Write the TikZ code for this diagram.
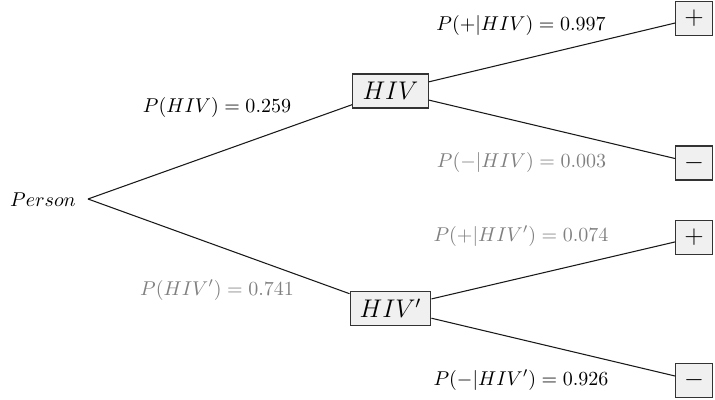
\documentclass[tikz,border=0pt]{standalone}
\usepackage{amsmath}
\begin{document}
\begin{tikzpicture}[x=0.47pt,y=-0.47pt,
  box/.style={draw=black!80,fill=black!6,line width=0.5pt,inner sep=0pt},
  midbox/.style={box,minimum width=35.5pt,minimum height=16pt,font=\large},
  endbox/.style={box,minimum width=17pt,minimum height=16pt,font=\large},
  lbl/.style={inner sep=0pt,scale=0.94},
  faint/.style={lbl,text=black!50},
  edge/.style={line width=0.5pt,draw=black!90}]
\useasboundingbox (0,0) rectangle (715,400);
\node[lbl] (person) at (43,200) {$Person$};
\coordinate (pe) at (88,199);
\node[midbox] (hiv) at (390.5,91) {$HIV$};
\node[midbox,minimum width=38pt] (hivn) at (390.5,308.5) {$HIV'$};
\node[endbox] (p1) at (694,18.5) {$+$};
\node[endbox] (m1) at (694,163) {$-$};
\node[endbox] (p2) at (694,237.5) {$+$};
\node[endbox] (m2) at (694,380.5) {$-$};
\draw[edge] (pe) -- (hiv);
\draw[edge] (pe) -- (hivn);
\draw[edge] (hiv) -- (p1);
\draw[edge] (hiv) -- (m1);
\draw[edge] (hivn) -- (p2);
\draw[edge] (hivn) -- (m2);
\node[lbl] (l1) at (217,107) {$P(HIV) = 0.259$};
\node[faint] (l2) at (217,290) {$P(HIV') = 0.741$};
\node[lbl] (l3) at (521,25) {$P(+|HIV) = 0.997$};
\node[faint] (l4) at (521.5,162.5) {$P(-|HIV) = 0.003$};
\node[faint] (l5) at (521,236) {$P(+|HIV') = 0.074$};
\node[lbl] (l6) at (521,380) {$P(-|HIV') = 0.926$};
\end{tikzpicture}
\end{document}
